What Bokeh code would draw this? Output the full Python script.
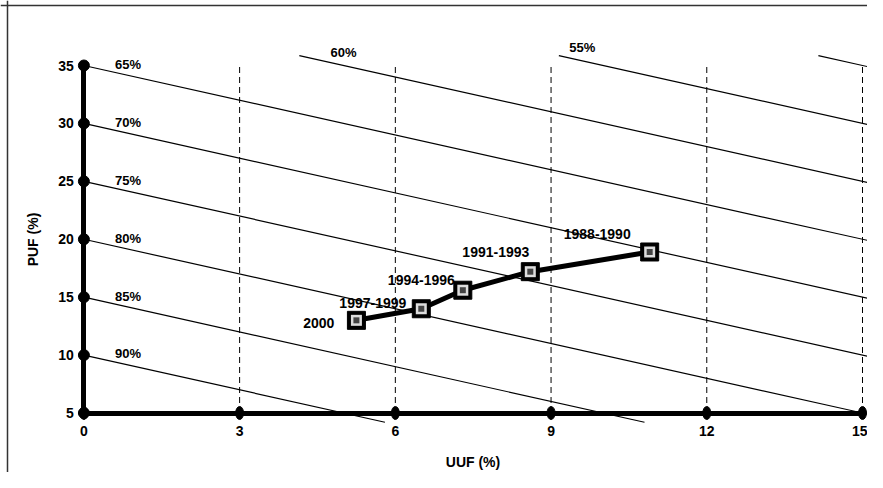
from bokeh.plotting import figure
from bokeh.models import Range1d, FixedTicker, Span, ColumnDataSource, LinearAxis, Grid
from bokeh.core.properties import value
from bokeh.embed import file_html
from bokeh.resources import INLINE

# ---- data ----
uuf = [5.25, 6.5, 7.3, 8.6, 10.9]
puf = [13.0, 14.0, 15.6, 17.2, 18.9]
periods = ["2000", "1997-1999", "1994-1996", "1991-1993", "1988-1990"]
efficiencies = [90, 85, 80, 75, 70, 65, 60, 55, 50]
eff_labels = ["90%", "85%", "80%", "75%", "70%", "65%", "60%", "55%", ""]
x_ticks = [0, 3, 6, 9, 12, 15]
y_ticks = [5, 10, 15, 20, 25, 30, 35]

# ---- layout constants ----
W, H = 867, 472
AX_X0, AX_X15 = 83.4, 862.0      # pixel of UUF 0 and 15
AX_Y35, AX_Y5 = 65.0, 412.5      # pixel of PUF 35 and 5
PX_X = (AX_X15 - AX_X0) / 15.0
PX_Y = (AX_Y5 - AX_Y35) / 30.0
x0 = -AX_X0 / PX_X
x1 = x0 + W / PX_X
y1 = 35 + AX_Y35 / PX_Y
y0 = y1 - H / PX_Y
FONT = value("Liberation Sans")
TOP_LABEL_X = {60: 5.0, 55: 9.6}   # label anchors for lines that start at the top edge

p = figure(width=W, height=H, x_range=Range1d(x0, x1), y_range=Range1d(y0, y1),
           output_backend="svg", toolbar_location=None, min_border=0,
           x_axis_location=None, y_axis_location=None)
p.outline_line_color = None
p.background_fill_color = "white"
p.border_fill_color = "white"
for r in list(p.center):
    if isinstance(r, Grid):
        r.visible = False

# vertical dashed grid
p.segment(x0=x_ticks[1:], y0=[y_ticks[0]] * 5, x1=x_ticks[1:], y1=[y_ticks[-1]] * 5,
          line_color="black", line_width=1, line_dash="6 4")

# efficiency iso-lines: PUF + UUF = 100 - eff
XMAX, YMIN, YMAX = 15.2, 4.2, 35.85
lx0, ly0, lx1, ly1 = [], [], [], []
tx, ty, tt, toff = [], [], [], []
for eff, lab in zip(efficiencies, eff_labels):
    c = 100 - eff
    if c <= YMAX:
        sx, sy = 0.0, c
    else:
        sx, sy = c - YMAX, YMAX
    if c - YMIN <= XMAX:
        ex, ey = c - YMIN, YMIN
    else:
        ex, ey = XMAX, c - XMAX
    lx0.append(sx); ly0.append(sy); lx1.append(ex); ly1.append(ey)
    if lab:
        if sx == 0:
            lxp = 0.85
            off = -11
        else:
            lxp = TOP_LABEL_X.get(eff, sx + 0.8)
            off = -13
        tx.append(lxp); ty.append(c - lxp); tt.append(lab); toff.append(off)

p.segment(x0=lx0, y0=ly0, x1=lx1, y1=ly1, line_color="black", line_width=1.2)
p.text(x=tx, y=ty, text=tt, y_offset=toff, text_align="center", text_baseline="middle",
       text_font=FONT, text_font_size="13px", text_font_style="bold", text_color="black")

# axes
xa = LinearAxis(fixed_location=y_ticks[0], bounds=(x_ticks[0], x_ticks[-1]),
                ticker=FixedTicker(ticks=x_ticks), axis_label="UUF (%)")
ya = LinearAxis(fixed_location=x_ticks[0], bounds=(y_ticks[0], y_ticks[-1]),
                ticker=FixedTicker(ticks=y_ticks), axis_label="PUF (%)")
for ax in (xa, ya):
    ax.axis_line_width = 5
    ax.axis_line_color = "black"
    ax.major_tick_line_color = None
    ax.minor_tick_line_color = None
    ax.major_tick_in = 0
    ax.major_tick_out = 0
    ax.major_label_text_font = "Liberation Sans"
    ax.major_label_text_font_size = "14px"
    ax.major_label_text_font_style = "bold"
    ax.major_label_text_color = "black"
    ax.axis_label_text_font = "Liberation Sans"
    ax.axis_label_text_font_size = "14px"
    ax.axis_label_text_font_style = "bold"
    ax.axis_label_text_color = "black"
xa.major_label_standoff = 13
xa.axis_label_standoff = 14
ya.major_label_standoff = 10
ya.axis_label_standoff = 14
p.add_layout(xa, "below")
p.add_layout(ya, "left")

# axis dots
p.scatter(x=[x_ticks[0]] * len(y_ticks), y=y_ticks, marker="circle", size=11, color="black")
p.ellipse(x=x_ticks, y=[y_ticks[0]] * len(x_ticks), width=8, height=13,
          width_units="screen", height_units="screen", color="black")

# data series
src = ColumnDataSource(dict(x=uuf, y=puf, t=periods,
                            dx=[-22, -15, -8, -1, -19], dy=[3, -6, -10, -20, -18]))
p.line(x="x", y="y", source=src, line_color="black", line_width=5)
p.scatter(x="x", y="y", source=src, marker="square", size=18, fill_color="black", line_color="black")
p.scatter(x="x", y="y", source=src, marker="square", size=11, fill_color="#dddddd", line_color=None)
p.scatter(x="x", y="y", source=src, marker="square", size=6, fill_color="#444444", line_color=None)
p.text(x="x", y="y", text="t", source=src, x_offset="dx", y_offset="dy",
       text_align="right", text_baseline="middle", text_font=FONT,
       text_font_size="14px", text_font_style="bold", text_color="black")

# outer frame (left and top edges)
p.add_layout(Span(location=x0 + 7 / PX_X, dimension="height", line_color="#333333", line_width=1.5))
p.add_layout(Span(location=y1 - 5 / PX_Y, dimension="width", line_color="#333333", line_width=1.5))

open("out.html", "w").write(file_html(p, INLINE))
